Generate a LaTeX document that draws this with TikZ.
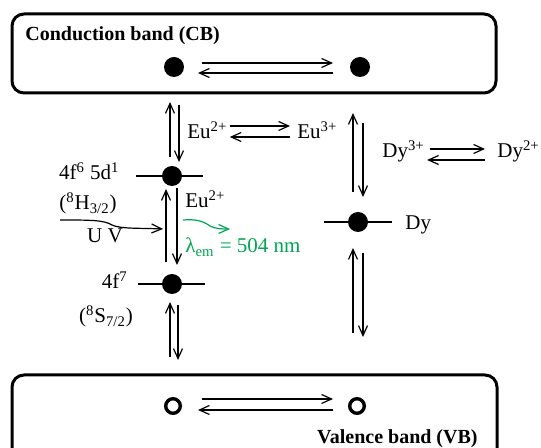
\documentclass[tikz,border=0pt]{standalone}
\usepackage{fontspec}
\setmainfont{Liberation Serif}
\usepackage{xcolor}
\usepackage{tikz}
\usetikzlibrary{arrows.meta,calc}

\definecolor{emgreen}{RGB}{0,166,81}

\begin{document}
\begin{tikzpicture}[
    x=0.5pt, y=-0.5pt,
    >={Straight Barb[length=5pt,width=4.5pt]},
    band/.style={draw,line width=1.5pt,rounded corners=6pt,inner sep=0pt},
    dot/.style={circle,fill,minimum size=10pt,inner sep=0pt},
    hole/.style={circle,draw,line width=1.7pt,minimum size=7.3pt,inner sep=0pt},
    level/.style={line width=0.6pt},
    arr/.style={->,line width=0.6pt},
    lbl/.style={inner sep=0pt,font=\fontsize{10.5}{12}\selectfont},
    bandlbl/.style={inner sep=0pt,font=\fontsize{10}{12}\selectfont\bfseries}
  ]
    \clip[use as bounding box] (0,0) rectangle (541,448);

    % bands
    \node[band,minimum width=242pt,minimum height=39.5pt] (cb) at (254,53.5) {};
    \node[band,minimum width=242.5pt,minimum height=50pt] (vb) at (254.5,425) {};
    \node[bandlbl,anchor=base west] (cblbl) at (25,41) {Conduction band (CB)};
    \node[bandlbl,anchor=base east] (vblbl) at (478,444) {Valence band (VB)};

    % electrons and holes
    \node[dot] (cbL) at (174,67) {};
    \node[dot] (cbR) at (360,67) {};
    \node[hole] (vbL) at (173,406) {};
    \node[hole] (vbR) at (357,406) {};
    \draw[arr] ($(cbL)+(28,-4)$) -- ($(cbR)+(-27,-4)$);
    \draw[arr] ($(cbR)+(-27,6)$) -- ($(cbL)+(24,6)$);
    \draw[arr] ($(vbL)+(29,-7)$) -- ($(vbR)+(-24,-7)$);
    \draw[arr] ($(vbR)+(-24,4)$) -- ($(vbL)+(25,4)$);

    % levels
    \node[dot] (eu5d) at (172,176) {};
    \node[dot] (eu4f) at (172,284) {};
    \node[dot] (dy) at (358,222) {};
    \draw[level] ($(eu5d)+(-36,0)$) -- ($(eu5d)+(31,0)$);
    \draw[level] ($(eu4f)+(-34,0)$) -- ($(eu4f)+(33,0)$);
    \draw[level] ($(dy)+(-34,0)$) -- ($(dy)+(34,0)$);

    \node[lbl,anchor=base east] (l5d) at (120,180) {4f\textsuperscript{6} 5d\textsuperscript{1}};
    \node[lbl,anchor=base] (t5d) at (88,210) {(\textsuperscript{8}H\textsubscript{3/2})};
    \node[lbl,anchor=base east] (l4f) at (128,289) {4f\textsuperscript{7}};
    \node[lbl,anchor=base] (t4f) at (106,323) {(\textsuperscript{8}S\textsubscript{7/2})};
    \node[lbl,anchor=base west] (eumid) at (185,208) {Eu\textsuperscript{2+}};
    \node[lbl,anchor=base west] (dylbl) at (405,230) {Dy};

    % vertical transitions
    \draw[arr] ($(eu5d)+(-2,-19)$) -- ($(eu5d)+(-2,-74)$);
    \draw[arr] ($(eu5d)+(7,-71)$) -- ($(eu5d)+(7,-14)$);
    \draw[arr] ($(eu4f)+(-6,-22)$) -- ($(eu5d)+(-6,13)$);
    \draw[arr] ($(eu5d)+(5,12)$) -- ($(eu4f)+(5,-19)$);
    \draw[arr] ($(eu4f)+(-2,73)$) -- ($(eu4f)+(-2,18)$);
    \draw[arr] ($(eu4f)+(6,21)$) -- ($(eu4f)+(6,76)$);
    \draw[arr] ($(dy)+(-5,-30)$) -- ($(dy)+(-5,-109)$);
    \draw[arr] ($(dy)+(5,-99)$) -- ($(dy)+(5,-25)$);
    \draw[arr] ($(dy)+(-5,111)$) -- ($(dy)+(-5,26)$);
    \draw[arr] ($(dy)+(5,31)$) -- ($(dy)+(5,115)$);

    % charge exchange
    \node[lbl,anchor=base west] (eutwo) at (187,139) {Eu\textsuperscript{2+}};
    \node[lbl,anchor=base west] (euthree) at (297,139) {Eu\textsuperscript{3+}};
    \draw[arr] ($(eutwo.base east)+(2,-13)$) -- ($(euthree.base west)+(-7,-13)$);
    \draw[arr] ($(euthree.base west)+(-7,-2)$) -- ($(eutwo.base east)+(2,-2)$);
    \node[lbl,anchor=base west] (dythree) at (382,158) {Dy\textsuperscript{3+}};
    \node[lbl,anchor=base west] (dytwo) at (497,158) {Dy\textsuperscript{2+}};
    \draw[arr] ($(dythree.base east)+(5,-9)$) -- ($(dytwo.base west)+(-12,-9)$);
    \draw[arr] ($(dytwo.base west)+(-12,2)$) -- ($(dythree.base east)+(2,2)$);

    % excitation and emission
    \coordinate (uv) at (60,220);
    \draw[arr] (uv) .. controls (90,220) and (104,220) .. (112,225)
      .. controls (120,229) and (140,228) .. ($(eu4f)+(-9,-55)$);
    \node[lbl,anchor=base] (uvlbl) at (105,243) {U V};
    \coordinate (em) at (183,220);
    \draw[arr,emgreen] (em) .. controls (196,219) and (203,221) .. (210,226)
      .. controls (216,229) and (222,229) .. (230,229);
    \node[lbl,anchor=base west,text=emgreen] (emlbl) at (185,253) {λ\textsubscript{em} = 504 nm};
  \end{tikzpicture}
\end{document}
